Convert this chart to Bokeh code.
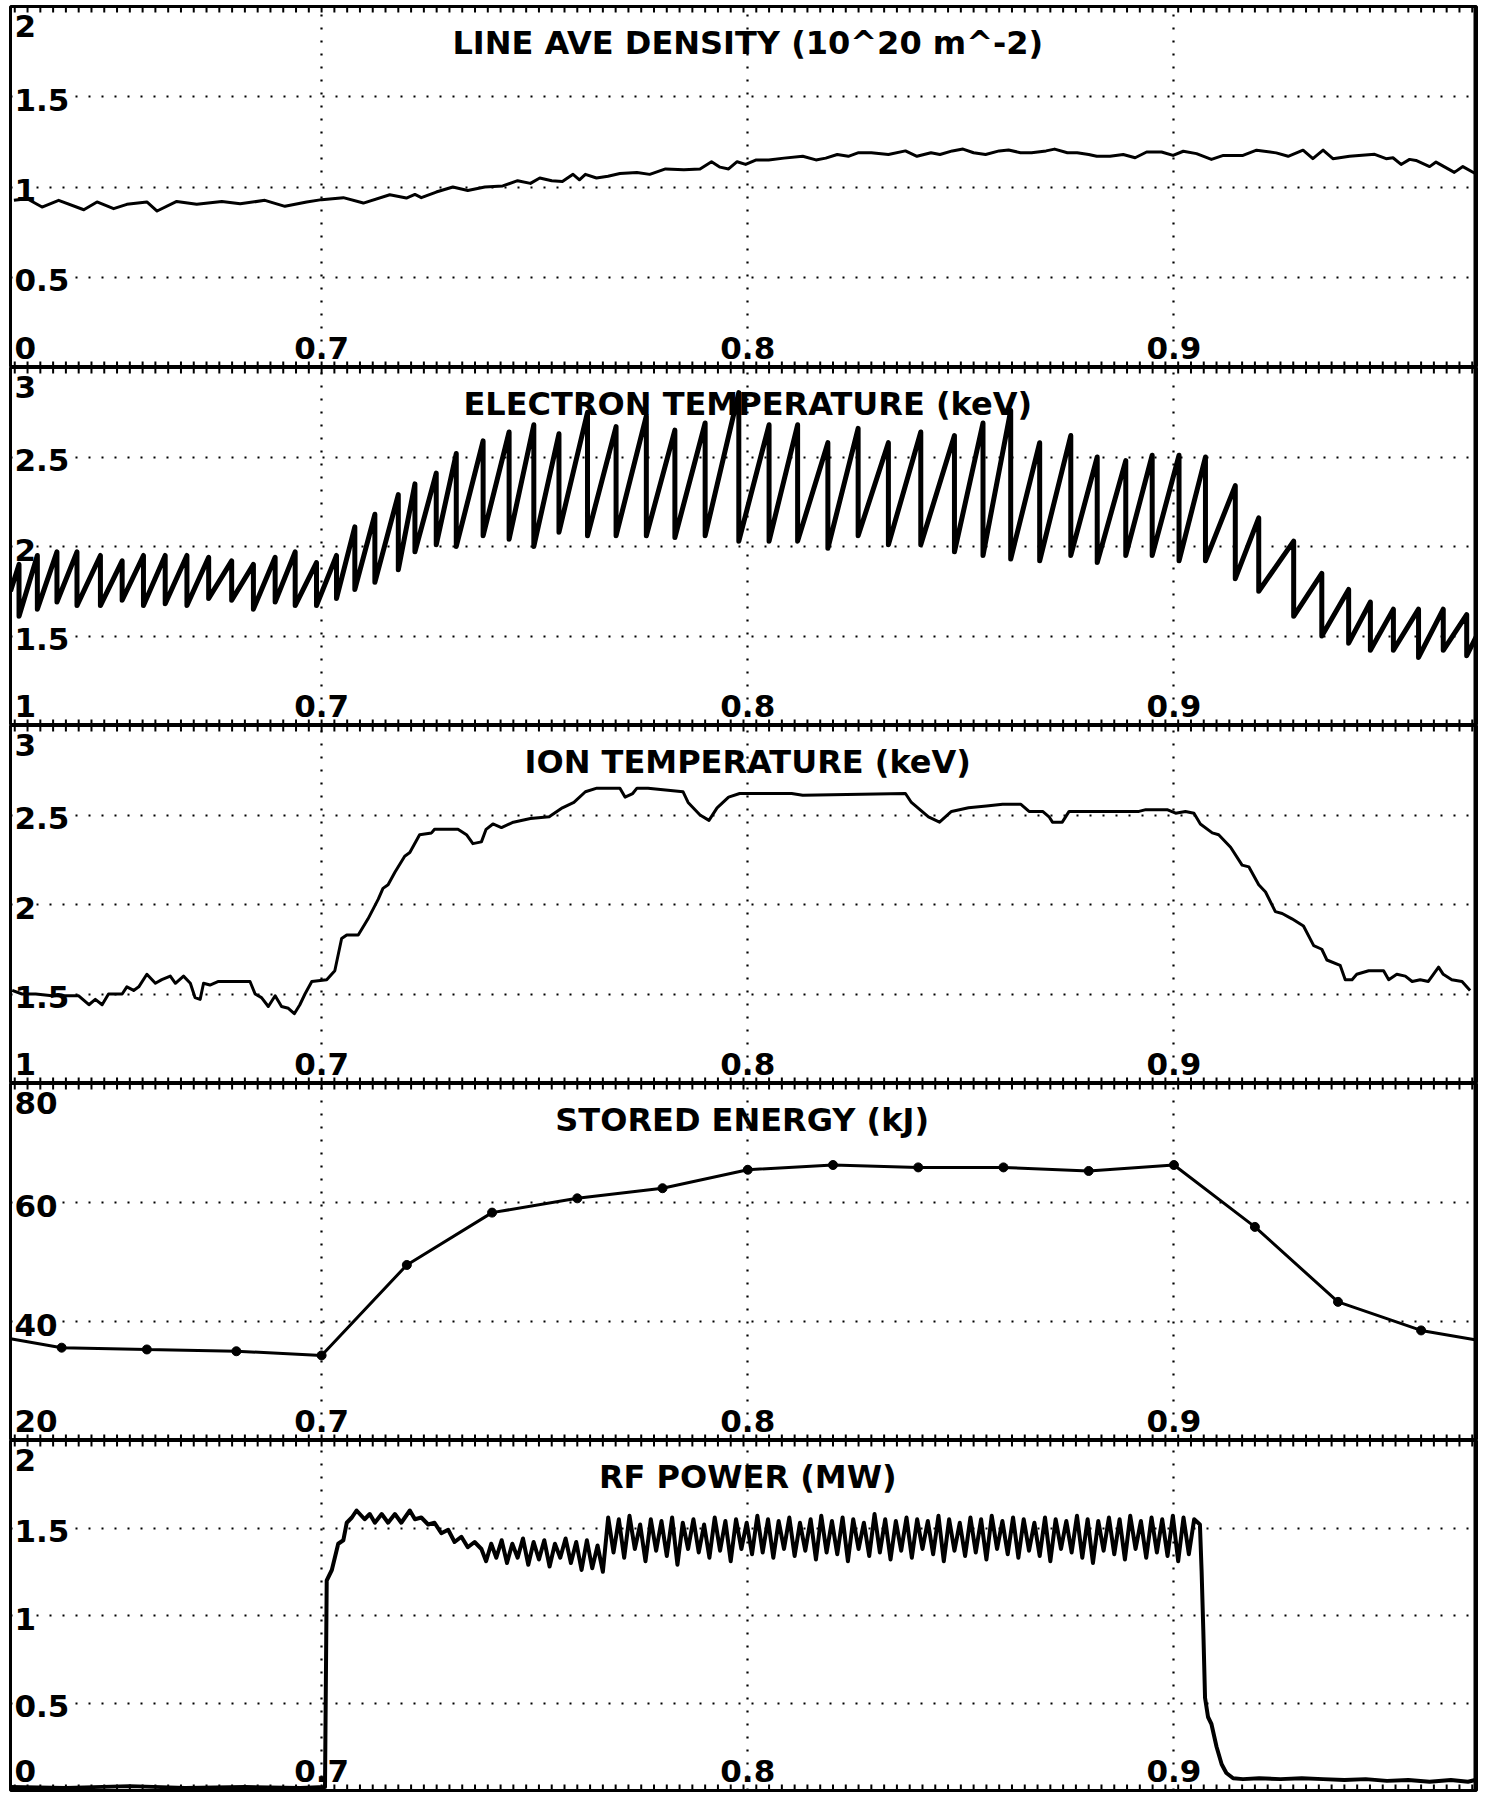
import numpy as np
from bokeh.plotting import figure
from bokeh.layouts import column
from bokeh.models import Range1d, Grid, FixedTicker, Span
from bokeh.core.properties import value
from bokeh.embed import file_html
from bokeh.resources import INLINE

FONT = "DejaVu Sans"

# shared time axis (s)
t_start, t_end = 0.627, 0.971
x_ticks = [0.7, 0.8, 0.9]
x_tick_labels = ["0.7", "0.8", "0.9"]

# ---- line averaged density (10^20 m^-2) ----
dens_t = [0.6278, 0.6309, 0.6344, 0.6383, 0.6442, 0.6473, 0.6512, 0.6543, 0.6590, 0.6614,
          0.6660, 0.6707, 0.6766, 0.6809, 0.6867, 0.6914, 0.6965, 0.7000, 0.7051, 0.7098,
          0.7160, 0.7199, 0.7219, 0.7234, 0.7269, 0.7308, 0.7343, 0.7383, 0.7425, 0.7460,
          0.7490, 0.7512, 0.7540, 0.7565, 0.7590, 0.7605, 0.7619, 0.7645, 0.7672, 0.7700,
          0.7740, 0.7770, 0.7807, 0.7850, 0.7888, 0.7915, 0.7935, 0.7955, 0.7975, 0.7995,
          0.8020, 0.8049, 0.8085, 0.8129, 0.8160, 0.8183, 0.8210, 0.8236, 0.8260, 0.8290,
          0.8330, 0.8370, 0.8397, 0.8430, 0.8451, 0.8480, 0.8505, 0.8530, 0.8558, 0.8590,
          0.8612, 0.8640, 0.8666, 0.8700, 0.8720, 0.8750, 0.8773, 0.8800, 0.8819, 0.8850,
          0.8881, 0.8909, 0.8936, 0.8971, 0.8998, 0.9022, 0.9053, 0.9088, 0.9116, 0.9162,
          0.9194, 0.9240, 0.9268, 0.9303, 0.9326, 0.9350, 0.9373, 0.9412, 0.9471, 0.9498,
          0.9514, 0.9533, 0.9553, 0.9568, 0.9600, 0.9615, 0.9658, 0.9678, 0.9707]
dens_v = [0.926, 0.935, 0.889, 0.926, 0.874, 0.917, 0.880, 0.904, 0.917, 0.867,
          0.920, 0.904, 0.920, 0.907, 0.926, 0.893, 0.917, 0.930, 0.941, 0.911,
          0.957, 0.939, 0.959, 0.941, 0.972, 1.000, 0.981, 1.000, 1.006, 1.035,
          1.020, 1.050, 1.035, 1.030, 1.070, 1.040, 1.070, 1.050, 1.060, 1.075,
          1.080, 1.070, 1.100, 1.095, 1.100, 1.140, 1.110, 1.100, 1.140, 1.125,
          1.150, 1.150, 1.160, 1.170, 1.150, 1.160, 1.180, 1.170, 1.190, 1.190,
          1.180, 1.200, 1.170, 1.190, 1.180, 1.200, 1.210, 1.190, 1.180, 1.200,
          1.205, 1.190, 1.190, 1.200, 1.210, 1.190, 1.190, 1.180, 1.170, 1.170,
          1.180, 1.162, 1.194, 1.194, 1.175, 1.198, 1.185, 1.153, 1.175, 1.175,
          1.204, 1.189, 1.170, 1.204, 1.157, 1.204, 1.157, 1.170, 1.181, 1.157,
          1.162, 1.125, 1.153, 1.147, 1.113, 1.138, 1.081, 1.113, 1.075]

# ---- electron temperature (keV): sawtooth crash times, value before and after each crash ----
te_first = 1.75
te_last = 1.50
te_crash_t = [0.6290, 0.6333, 0.6379, 0.6426, 0.6481, 0.6532, 0.6582, 0.6633, 0.6684, 0.6735,
              0.6789, 0.6840, 0.6891, 0.6938, 0.6988, 0.7035, 0.7078, 0.7125, 0.7180, 0.7219,
              0.7269, 0.7316, 0.7379, 0.7440, 0.7498, 0.7557, 0.7624, 0.7691, 0.7762, 0.7829,
              0.7900, 0.7979, 0.8050, 0.8117, 0.8188, 0.8259, 0.8330, 0.8406, 0.8485, 0.8552,
              0.8617, 0.8685, 0.8758, 0.8820, 0.8887, 0.8949, 0.9012, 0.9074, 0.9144, 0.9199,
              0.9281, 0.9347, 0.9410, 0.9461, 0.9515, 0.9574, 0.9632, 0.9687]
te_peak = [1.90, 1.95, 1.97, 1.97, 1.95, 1.92, 1.95, 1.95, 1.95, 1.94,
           1.92, 1.90, 1.94, 1.97, 1.91, 1.95, 2.11, 2.18, 2.29, 2.35,
           2.41, 2.52, 2.59, 2.64, 2.68, 2.63, 2.75, 2.67, 2.73, 2.65,
           2.69, 2.86, 2.68, 2.68, 2.58, 2.66, 2.58, 2.64, 2.62, 2.69,
           2.76, 2.58, 2.62, 2.50, 2.48, 2.51, 2.51, 2.50, 2.34, 2.16,
           2.03, 1.85, 1.76, 1.69, 1.65, 1.65, 1.65, 1.62]
te_trough = [1.61, 1.65, 1.69, 1.67, 1.67, 1.70, 1.67, 1.68, 1.67, 1.71,
             1.70, 1.65, 1.69, 1.67, 1.67, 1.71, 1.76, 1.80, 1.87, 1.97,
             2.01, 2.00, 2.06, 2.04, 2.00, 2.08, 2.06, 2.06, 2.06, 2.05,
             2.06, 2.03, 2.03, 2.03, 1.99, 2.06, 2.01, 2.01, 1.97, 1.95,
             1.93, 1.92, 1.95, 1.91, 1.95, 1.95, 1.92, 1.92, 1.82, 1.75,
             1.61, 1.50, 1.46, 1.42, 1.42, 1.38, 1.42, 1.39]

# ---- ion temperature (keV) ----
ti_t = [0.6274, 0.6297, 0.6329, 0.6368, 0.6407, 0.6430, 0.6454, 0.6469, 0.6485, 0.6500,
        0.6520, 0.6532, 0.6543, 0.6559, 0.6571, 0.6590, 0.6610, 0.6625, 0.6645, 0.6657,
        0.6676, 0.6692, 0.6703, 0.6715, 0.6723, 0.6738, 0.6758, 0.6797, 0.6832, 0.6844,
        0.6859, 0.6875, 0.6891, 0.6906, 0.6922, 0.6936, 0.6949, 0.6961, 0.6977, 0.7012,
        0.7031, 0.7047, 0.7059, 0.7086, 0.7109, 0.7133, 0.7144, 0.7156, 0.7172, 0.7195,
        0.7207, 0.7230, 0.7258, 0.7265, 0.7320, 0.7340, 0.7355, 0.7375, 0.7386, 0.7402,
        0.7422, 0.7450, 0.7490, 0.7534, 0.7565, 0.7592, 0.7619, 0.7646, 0.7700, 0.7712,
        0.7730, 0.7740, 0.7766, 0.7848, 0.7860, 0.7888, 0.7909, 0.7928, 0.7955, 0.7981,
        0.8103, 0.8129, 0.8370, 0.8384, 0.8424, 0.8450, 0.8478, 0.8518, 0.8560, 0.8598,
        0.8641, 0.8660, 0.8692, 0.8707, 0.8715, 0.8738, 0.8754, 0.8801, 0.8918, 0.8934,
        0.8984, 0.9004, 0.9027, 0.9047, 0.9062, 0.9090, 0.9105, 0.9133, 0.9160, 0.9176,
        0.9199, 0.9215, 0.9238, 0.9254, 0.9277, 0.9304, 0.9328, 0.9347, 0.9359, 0.9390,
        0.9402, 0.9418, 0.9429, 0.9457, 0.9492, 0.9504, 0.9523, 0.9543, 0.9559, 0.9578,
        0.9597, 0.9621, 0.9632, 0.9652, 0.9676, 0.9695]
ti_v = [1.52, 1.50, 1.50, 1.49, 1.49, 1.49, 1.44, 1.47, 1.44, 1.50,
        1.50, 1.50, 1.54, 1.52, 1.54, 1.61, 1.56, 1.58, 1.60, 1.56,
        1.60, 1.56, 1.48, 1.47, 1.56, 1.55, 1.57, 1.57, 1.57, 1.50,
        1.48, 1.43, 1.49, 1.43, 1.42, 1.39, 1.44, 1.50, 1.57, 1.58,
        1.63, 1.81, 1.83, 1.83, 1.92, 2.03, 2.09, 2.11, 2.18, 2.27,
        2.29, 2.39, 2.40, 2.42, 2.42, 2.39, 2.34, 2.35, 2.42, 2.45,
        2.43, 2.46, 2.48, 2.49, 2.54, 2.57, 2.63, 2.65, 2.65, 2.60,
        2.62, 2.65, 2.65, 2.63, 2.57, 2.50, 2.47, 2.54, 2.60, 2.62,
        2.62, 2.61, 2.62, 2.57, 2.49, 2.46, 2.52, 2.54, 2.55, 2.56,
        2.56, 2.52, 2.52, 2.49, 2.46, 2.46, 2.52, 2.52, 2.52, 2.53,
        2.53, 2.51, 2.52, 2.51, 2.45, 2.40, 2.39, 2.32, 2.22, 2.21,
        2.11, 2.07, 1.96, 1.95, 1.92, 1.88, 1.77, 1.75, 1.69, 1.66,
        1.58, 1.58, 1.61, 1.63, 1.63, 1.58, 1.61, 1.60, 1.57, 1.58,
        1.57, 1.65, 1.61, 1.58, 1.57, 1.52]

# ---- stored energy (kJ), one sample every ~20 ms ----
we_t = [0.6390, 0.6590, 0.6800, 0.7000, 0.7200, 0.7400, 0.7600, 0.7800, 0.8000,
        0.8200, 0.8400, 0.8600, 0.8800, 0.9000, 0.9190, 0.9385, 0.9580]
we_v = [35.6, 35.3, 35.0, 34.3, 49.5, 58.3, 60.7, 62.4, 65.5,
        66.3, 65.9, 65.9, 65.3, 66.3, 55.9, 43.3, 38.5]
we_left = 37.1
we_right = 36.9

# ---- RF power (MW) ----
rf_pre_t = [0.6270, 0.6400, 0.6550, 0.6680, 0.6820, 0.6950, 0.7008]
rf_pre_v = [0.020, 0.015, 0.025, 0.015, 0.020, 0.015, 0.020]
rf_on_t = [0.7012, 0.7024, 0.7039, 0.7051, 0.7059, 0.7071, 0.7082, 0.7101, 0.7113, 0.7125,
           0.7141, 0.7156, 0.7172, 0.7187, 0.7207, 0.7219, 0.7234, 0.7250, 0.7265, 0.7281,
           0.7297, 0.7312, 0.7328, 0.7343, 0.7359, 0.7375, 0.7386, 0.7398]
rf_on_v = [1.20, 1.26, 1.41, 1.43, 1.53, 1.56, 1.60, 1.55, 1.58, 1.53,
           1.58, 1.53, 1.58, 1.53, 1.60, 1.55, 1.56, 1.52, 1.53, 1.47,
           1.49, 1.42, 1.45, 1.39, 1.42, 1.38, 1.31, 1.41]
# flat-top, digitised every 1.25 ms from 0.741 s
rf_flat_t0 = 0.7410
rf_flat_dt = 0.00125
rf_flat_v = [1.33, 1.43, 1.30, 1.41, 1.33, 1.44, 1.29, 1.42, 1.32, 1.43,
             1.28, 1.41, 1.33, 1.44, 1.30, 1.42, 1.26, 1.43, 1.27, 1.40,
             1.25,
             1.56, 1.36, 1.55, 1.33, 1.57, 1.38, 1.52, 1.31, 1.55, 1.37,
             1.54, 1.34, 1.56, 1.29, 1.53, 1.38, 1.55, 1.36, 1.52, 1.33,
             1.56, 1.37, 1.54, 1.31, 1.55, 1.38, 1.53, 1.35, 1.57, 1.36,
             1.55, 1.33, 1.54, 1.38, 1.56, 1.34, 1.53, 1.37, 1.55, 1.32,
             1.57, 1.36, 1.54, 1.35, 1.56, 1.31, 1.55, 1.38, 1.53, 1.34,
             1.58, 1.36, 1.55, 1.32, 1.54, 1.37, 1.56, 1.33, 1.55, 1.38,
             1.54, 1.35, 1.57, 1.31, 1.55, 1.37, 1.53, 1.34, 1.56, 1.36,
             1.55, 1.32, 1.57, 1.38, 1.54, 1.35, 1.56, 1.33, 1.55, 1.37,
             1.53, 1.34, 1.56, 1.31, 1.55, 1.38, 1.54, 1.36, 1.57, 1.33,
             1.55, 1.30, 1.54, 1.37, 1.56, 1.35, 1.55, 1.32, 1.57, 1.38,
             1.54, 1.33, 1.56, 1.36, 1.55, 1.34, 1.57, 1.31, 1.56, 1.35,
             1.55]
rf_off_t = [0.9061, 0.9065, 0.9069, 0.9073, 0.9080, 0.9088, 0.9100, 0.9112, 0.9123, 0.9139,
            0.9162, 0.9200, 0.9250, 0.9300, 0.9350, 0.9400, 0.9450, 0.9500, 0.9550, 0.9600,
            0.9650, 0.9690, 0.9707]
rf_off_v = [1.52, 1.25, 0.91, 0.53, 0.42, 0.38, 0.25, 0.15, 0.10, 0.07,
            0.065, 0.070, 0.065, 0.070, 0.065, 0.060, 0.065, 0.055, 0.060, 0.050,
            0.060, 0.050, 0.060]

panels = [
    dict(title="LINE AVE DENSITY (10^20 m^-2)", y0=0, y1=2,
         ticks=[2, 1.5, 1, 0.5, 0], labels=["2", "1.5", "1", "0.5", "0"]),
    dict(title="ELECTRON TEMPERATURE (keV)", y0=1, y1=3,
         ticks=[3, 2.5, 2, 1.5, 1], labels=["3", "2.5", "2", "1.5", "1"]),
    dict(title="ION TEMPERATURE (keV)", y0=1, y1=3,
         ticks=[3, 2.5, 2, 1.5, 1], labels=["3", "2.5", "2", "1.5", "1"]),
    dict(title="STORED ENERGY  (kJ)", y0=20, y1=80,
         ticks=[80, 60, 40, 20], labels=["80", "60", "40", "20"]),
    dict(title="RF POWER (MW)", y0=0, y1=2,
         ticks=[2, 1.5, 1, 0.5, 0], labels=["2", "1.5", "1", "0.5", "0"]),
]
frame_heights = [361, 358, 358, 357, 350]
tops = [6, 0, 0, 0, 0]
bottoms = [0, 0, 0, 0, 6]

# small crossing ticks along each panel edge
edge_ticks = np.arange(0.628, t_end, 0.003)
EDGE_TICK_PX = 6


def make_panel(cfg, fh, top, bottom):
    y0, y1 = cfg["y0"], cfg["y1"]
    p = figure(width=1494, height=fh + top + bottom,
               x_range=Range1d(t_start, t_end), y_range=Range1d(y0, y1),
               x_axis_location=None, y_axis_location=None,
               toolbar_location=None, output_backend="svg",
               min_border_left=10, min_border_right=18,
               min_border_top=top, min_border_bottom=bottom,
               background_fill_color="white", border_fill_color="white",
               outline_line_color="black", outline_line_width=3)
    for g in p.grid:
        g.visible = False

    inner = [v for v in cfg["ticks"] if v not in (y0, y1)]
    p.add_layout(Grid(dimension=0, ticker=FixedTicker(ticks=x_ticks),
                      grid_line_color="black", grid_line_width=2.2,
                      grid_line_dash="2 11"))
    p.add_layout(Grid(dimension=1, ticker=FixedTicker(ticks=inner),
                      grid_line_color="black", grid_line_width=2.2,
                      grid_line_dash="2 11"))
    p.add_layout(Span(location=t_end, dimension="height",
                      line_color="black", line_width=6))

    # ticks rising from the bottom edge and hanging from the top edge
    d = (y1 - y0) / fh * EDGE_TICK_PX
    n = len(edge_ticks)
    p.segment(x0=np.concatenate([edge_ticks, edge_ticks]),
              x1=np.concatenate([edge_ticks, edge_ticks]),
              y0=[y0] * n + [y1] * n,
              y1=[y0 + d] * n + [y1 - d] * n,
              line_color="black", line_width=2)

    # value labels drawn inside the frame at the left edge
    offs = []
    for v in cfg["ticks"]:
        if v == y1:
            offs.append(19)
        elif v == y0:
            offs.append(-20)
        else:
            offs.append(3)
    p.text(x=[t_start] * len(cfg["ticks"]), y=cfg["ticks"], text=cfg["labels"],
           x_offset=4, y_offset=offs,
           text_font=value(FONT), text_font_style="bold", text_font_size="31px",
           text_align="left", text_baseline="middle", text_color="black",
           background_fill_color="white")

    # time labels along the bottom edge
    p.text(x=x_ticks, y=[y0] * len(x_ticks), text=x_tick_labels,
           y_offset=-20, text_font=value(FONT), text_font_style="bold",
           text_font_size="31px", text_align="center",
           text_baseline="middle", text_color="black")

    p.text(x=[0.8], y=[y1], text=[cfg["title"]], y_offset=36,
           text_font=value(FONT), text_font_style="bold", text_font_size="32px",
           text_align="center", text_baseline="middle", text_color="black")
    return p


figs = [make_panel(c, fh, tp, bt)
        for c, fh, tp, bt in zip(panels, frame_heights, tops, bottoms)]

# density
figs[0].line(dens_t, dens_v, line_color="black", line_width=3, line_join="round")

# electron temperature sawteeth: ramp up to each crash, then drop
te_x = [t_start]
te_y = [te_first]
for tc, hi, lo in zip(te_crash_t, te_peak, te_trough):
    te_x += [tc, tc]
    te_y += [hi, lo]
te_x.append(t_end)
te_y.append(te_last)
figs[1].line(te_x, te_y, line_color="black", line_width=5, line_join="round")

# ion temperature
figs[2].line(ti_t, ti_v, line_color="black", line_width=3, line_join="round")

# stored energy
figs[3].line([t_start] + we_t + [t_end], [we_left] + we_v + [we_right],
             line_color="black", line_width=3)
figs[3].scatter(we_t, we_v, size=9, marker="circle",
                fill_color="black", line_color="black")

# RF power
rf_flat_t = list(rf_flat_t0 + rf_flat_dt * np.arange(len(rf_flat_v)))
rf_t = rf_pre_t + rf_on_t + rf_flat_t + rf_off_t
rf_v = rf_pre_v + rf_on_v + rf_flat_v + rf_off_v
figs[4].line(rf_t, rf_v, line_color="black", line_width=4, line_join="round")

layout = column(*figs, spacing=0)
open("out.html", "w").write(file_html(layout, INLINE))
